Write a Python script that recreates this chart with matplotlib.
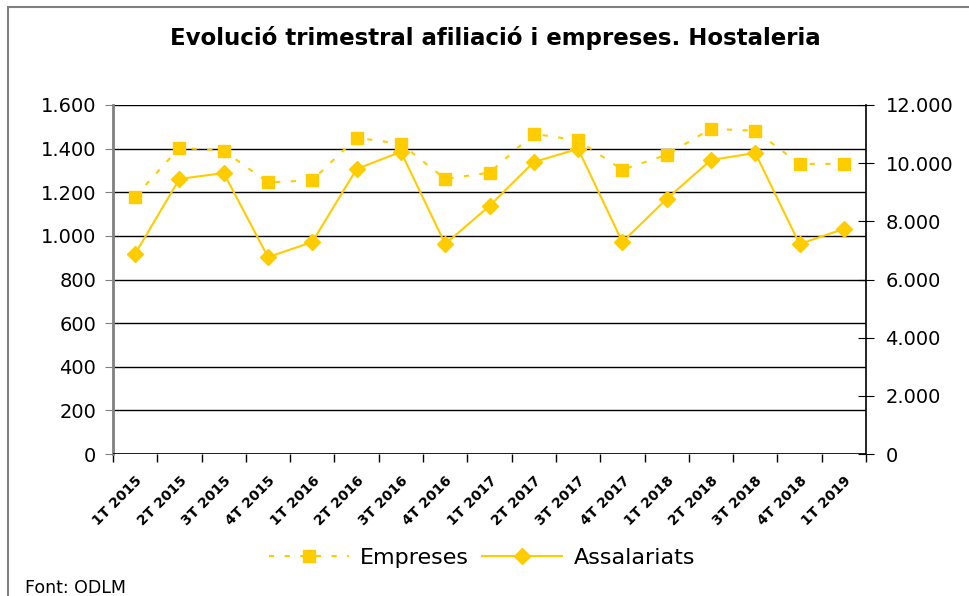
import matplotlib
matplotlib.use("Agg")
import matplotlib.pyplot as plt
from matplotlib.patches import Rectangle
from matplotlib.ticker import FuncFormatter

# dades trimestrals
trimestres = ["1T 2015", "2T 2015", "3T 2015", "4T 2015",
              "1T 2016", "2T 2016", "3T 2016", "4T 2016",
              "1T 2017", "2T 2017", "3T 2017", "4T 2017",
              "1T 2018", "2T 2018", "3T 2018", "4T 2018",
              "1T 2019"]
empreses = [1180, 1404, 1390, 1245, 1255, 1450, 1422, 1261,
            1290, 1468, 1438, 1303, 1372, 1491, 1482, 1330, 1330]
assalariats = [6880, 9460, 9660, 6770, 7290, 9800, 10390, 7220,
               8530, 10040, 10490, 7290, 8770, 10110, 10350, 7220, 7740]

groc = "#FFCC00"


def punts_milers(v, pos):
    return "{:,.0f}".format(v).replace(",", ".")


W, H = 969, 596
fig = plt.figure(figsize=(W / 100, H / 100), dpi=100)

# marc exterior (retallat a la dreta i a baix)
fig.patches.append(Rectangle((8 / W, -0.1), 1.2, 1 - 7 / H + 0.1,
                             transform=fig.transFigure, fill=False,
                             edgecolor="#808080", linewidth=1.5))

ax = fig.add_axes([113 / W, 1 - 454 / H, (866 - 113) / W, (454 - 105) / H])
ax2 = ax.twinx()

x = list(range(len(trimestres)))
ax.plot(x, empreses, color=groc, linestyle=(0, (2.5, 5)), linewidth=1.5,
        marker="s", markersize=8.5, label="Empreses")
ax2.plot(x, assalariats, color=groc, linestyle="-", linewidth=1.5,
         marker="D", markersize=8, label="Assalariats")

ax.set_xlim(-0.5, len(trimestres) - 0.5)
ax.set_ylim(0, 1600)
ax.set_yticks(range(0, 1601, 200))
ax.yaxis.set_major_formatter(FuncFormatter(punts_milers))
ax.grid(axis="y", color="black", linewidth=1)
ax.set_axisbelow(True)

ax2.set_ylim(0, 12000)
ax2.set_yticks(range(0, 12001, 2000))
ax2.yaxis.set_major_formatter(FuncFormatter(punts_milers))

ax.set_xticks(x)
ax.set_xticklabels(trimestres, rotation=45, ha="right", va="top",
                   rotation_mode="anchor", fontsize=10, fontweight="bold")
ax.set_xticks([i - 0.5 for i in range(len(trimestres) + 1)], minor=True)
ax.tick_params(axis="x", which="major", length=0, pad=14)
ax.tick_params(axis="x", which="minor", length=6, direction="out", width=1)
ax.tick_params(axis="y", length=6, direction="out", labelsize=14, pad=6,
               color="#808080")
ax2.tick_params(axis="y", length=12, direction="inout", labelsize=14, pad=8)

for a in (ax, ax2):
    a.spines["top"].set_visible(False)
    a.spines["bottom"].set_visible(False)
ax.spines["left"].set_color("#808080")
ax.spines["left"].set_linewidth(2)
ax.spines["right"].set_visible(False)
ax2.spines["left"].set_visible(False)
ax2.spines["right"].set_linewidth(1.2)
ax.axhline(0, color="black", linewidth=1.2, zorder=3)

fig.text(495 / W, 1 - 38 / H, "Evolució trimestral afiliació i empreses. Hostaleria",
         ha="center", va="center", fontsize=16.5, fontweight="bold")

h1, l1 = ax.get_legend_handles_labels()
h2, l2 = ax2.get_legend_handles_labels()
fig.legend(h1 + h2, l1 + l2, loc="center", bbox_to_anchor=(482 / W, 1 - 558 / H),
           ncol=2, frameon=False, fontsize=16, handlelength=3.6,
           handletextpad=0.5, columnspacing=0.6)

fig.text(25 / W, 1 - 588 / H, "Font: ODLM", ha="left", va="center", fontsize=12.5)

fig.savefig("out.png", dpi=100)
